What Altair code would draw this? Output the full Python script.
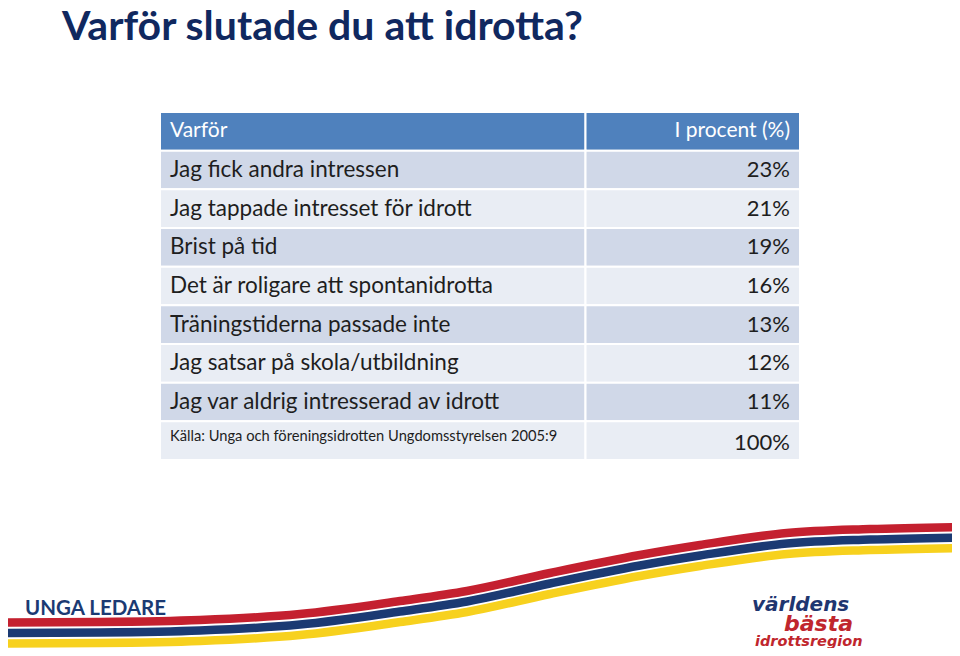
import altair as alt
import pandas as pd

# ---- data ----
header = ["Varför", "I procent (%)"]
reasons = [
    "Jag fick andra intressen",
    "Jag tappade intresset för idrott",
    "Brist på tid",
    "Det är roligare att spontanidrotta",
    "Träningstiderna passade inte",
    "Jag satsar på skola/utbildning",
    "Jag var aldrig intresserad av idrott",
]
percents = ["23%", "21%", "19%", "16%", "13%", "12%", "11%"]
source_note = "Källa: Unga och föreningsidrotten Ungdomsstyrelsen 2005:9"
total = "100%"
title_text = "Varför slutade du att idrotta?"
footer_text = "UNGA LEDARE"
logo_words = ["världens", "bästa", "idrottsregion"]

# decorative stripe (red centre line), page pixel coords
stripe_x = [0, 100, 200, 300, 400, 467, 550, 640, 700, 787, 870, 960]
stripe_y = [622.5, 622, 620, 614, 601, 591, 573, 555, 545, 533, 529, 527]
stripe_names = ["red", "navy", "yellow"]
stripe_offsets = [0, 10.5, 21]
stripe_colors = ["#C4202F", "#1B3A73", "#F7D11E"]

FONT = "Lato"
W, H = 944, 640

# ---- table frames ----
n_rows = 1 + len(reasons) + 1
cells = []
for r in range(n_rows):
    if r == 0:
        fill = "header"
    elif r % 2 == 1:
        fill = "dark"
    else:
        fill = "light"
    for c in range(2):
        cells.append({"row": r, "row2": r + 1, "col": c, "col2": c + 1, "fill": fill})
cells = pd.DataFrame(cells)

xs = alt.Scale(domain=[0, 1, 2], range=[152, 577.5, 792], nice=False, zero=False)
ys = alt.Scale(domain=[0, n_rows], range=[104, 452], nice=False, zero=False)

rects = alt.Chart(cells).mark_rect(stroke="white", strokeWidth=2).encode(
    x=alt.X("col:Q", scale=xs, axis=None),
    x2="col2:Q",
    y=alt.Y("row:Q", scale=ys, axis=None),
    y2="row2:Q",
    color=alt.Color("fill:N", scale=alt.Scale(domain=["header", "dark", "light"],
                                              range=["#4F81BD", "#D0D8E8", "#E9EDF4"]), legend=None),
)

# ---- table text ----
head_df = pd.DataFrame({"row": [0.5, 0.5], "col": [0, 2], "text": header, "align": ["l", "r"]})
body_lab = pd.DataFrame({"row": [i + 1.5 for i in range(len(reasons))], "col": 0, "text": reasons})
body_val = pd.DataFrame({"row": [i + 1.5 for i in range(len(percents))] + [n_rows - 0.45],
                         "col": 2, "text": percents + [total]})
note_df = pd.DataFrame({"row": [n_rows - 0.6], "col": [0], "text": [source_note]})


def text_layer(df, align, dx, size, color):
    return alt.Chart(df).mark_text(
        align=align, baseline="middle", dx=dx, font=FONT, fontSize=size, color=color
    ).encode(
        x=alt.X("col:Q", scale=xs, axis=None),
        y=alt.Y("row:Q", scale=ys, axis=None),
        text="text:N",
    )


head_l = text_layer(head_df[head_df["align"] == "l"], "left", 10, 21, "white")
head_r = text_layer(head_df[head_df["align"] == "r"], "right", -10, 21, "white")
lab_t = text_layer(body_lab, "left", 10, 22.5, "#1E1E1E")
val_t = text_layer(body_val, "right", -10, 22, "#1E1E1E")
note_t = text_layer(note_df, "left", 10, 14.7, "#1E1E1E")

# ---- stripes ----
srows = []
for name, off in zip(stripe_names, stripe_offsets):
    for i, (x, y) in enumerate(zip(stripe_x, stripe_y)):
        srows.append({"stripe": name, "order": i, "px": x, "py": y + off})
sdf = pd.DataFrame(srows)
px = alt.Scale(domain=[0, 960], range=[-8, 952], nice=False, zero=False)
py = alt.Scale(domain=[0, 656], range=[-8, 648], nice=False, zero=False)
stripes = alt.Chart(sdf).mark_line(interpolate="monotone", strokeWidth=8.5, strokeCap="butt").encode(
    x=alt.X("px:Q", scale=px, axis=None),
    y=alt.Y("py:Q", scale=py, axis=None),
    order="order:Q",
    color=alt.Color("stripe:N", scale=alt.Scale(domain=stripe_names, range=stripe_colors), legend=None),
)


# ---- annotations ----
def label(text, x, y, size, color, weight="normal", style="normal", align="left", font=FONT):
    return alt.Chart(pd.DataFrame({"t": [text]})).mark_text(
        align=align, baseline="alphabetic", fontSize=size, font=font, fontWeight=weight,
        fontStyle=style, color=color,
    ).encode(x=alt.value(x), y=alt.value(y), text="t:N")


title = label(title_text, 54, 32, 41, "#10285F", weight="bold")
footer = label(footer_text, 17, 607, 20.5, "#1B3A73", weight="bold")
logo1 = label(logo_words[0], 744, 603, 20, "#1F3670", weight="bold", style="italic", font="DejaVu Sans")
logo2 = label(logo_words[1], 776, 623, 22, "#C0262D", weight="bold", style="italic", font="DejaVu Sans")
logo3 = label(logo_words[2], 747, 637.5, 14.5, "#C0262D", weight="bold", style="italic", font="DejaVu Sans")

chart = alt.layer(
    stripes, rects, head_l, head_r, lab_t, val_t, note_t, title, footer, logo1, logo2, logo3
).resolve_scale(
    x="independent", y="independent", color="independent"
).properties(
    width=W, height=H, autosize=alt.AutoSizeParams(type="none"), padding=0,
    background="white",
).configure_view(stroke=None)

chart.save("out.html", embed_options={"renderer": "svg", "actions": False})
